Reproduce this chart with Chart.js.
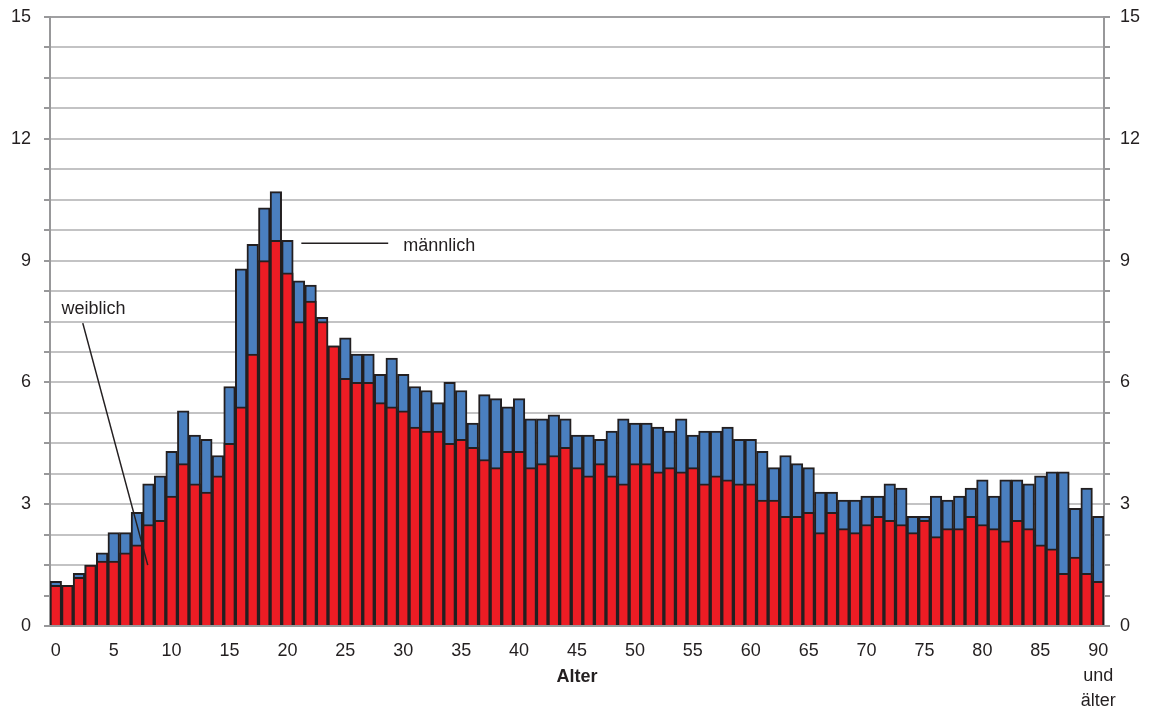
<!DOCTYPE html>
<html lang="de">
<head>
<meta charset="utf-8">
<title>Alter – männlich / weiblich</title>
<script src="https://cdn.jsdelivr.net/npm/chart.js@4.4.1/dist/chart.umd.min.js"></script>
<style>
  html, body { margin: 0; padding: 0; background: #fff; }
  #wrap { width: 1155px; height: 713px; position: relative; }
</style>
</head>
<body>
<div id="wrap"><canvas id="chart"></canvas></div>
<script>
// -------- DATEN --------
const alter = [
  "0","1","2","3","4","5","6","7","8","9",
  "10","11","12","13","14","15","16","17","18","19",
  "20","21","22","23","24","25","26","27","28","29",
  "30","31","32","33","34","35","36","37","38","39",
  "40","41","42","43","44","45","46","47","48","49",
  "50","51","52","53","54","55","56","57","58","59",
  "60","61","62","63","64","65","66","67","68","69",
  "70","71","72","73","74","75","76","77","78","79",
  "80","81","82","83","84","85","86","87","88","89",
  ["90","und","älter"]
];

const maennlich = [
  1.1, 1.0, 1.3, 1.5, 1.8, 2.3, 2.3, 2.8, 3.5, 3.7,
  4.3, 5.3, 4.7, 4.6, 4.2, 5.9, 8.8, 9.4, 10.3, 10.7,
  9.5, 8.5, 8.4, 7.6, 6.9, 7.1, 6.7, 6.7, 6.2, 6.6,
  6.2, 5.9, 5.8, 5.5, 6.0, 5.8, 5.0, 5.7, 5.6, 5.4,
  5.6, 5.1, 5.1, 5.2, 5.1, 4.7, 4.7, 4.6, 4.8, 5.1,
  5.0, 5.0, 4.9, 4.8, 5.1, 4.7, 4.8, 4.8, 4.9, 4.6,
  4.6, 4.3, 3.9, 4.2, 4.0, 3.9, 3.3, 3.3, 3.1, 3.1,
  3.2, 3.2, 3.5, 3.4, 2.7, 2.7, 3.2, 3.1, 3.2, 3.4,
  3.6, 3.2, 3.6, 3.6, 3.5, 3.7, 3.8, 3.8, 2.9, 3.4,
  2.7
];

const weiblich = [
  1.0, 1.0, 1.2, 1.5, 1.6, 1.6, 1.8, 2.0, 2.5, 2.6,
  3.2, 4.0, 3.5, 3.3, 3.7, 4.5, 5.4, 6.7, 9.0, 9.5,
  8.7, 7.5, 8.0, 7.5, 6.9, 6.1, 6.0, 6.0, 5.5, 5.4,
  5.3, 4.9, 4.8, 4.8, 4.5, 4.6, 4.4, 4.1, 3.9, 4.3,
  4.3, 3.9, 4.0, 4.2, 4.4, 3.9, 3.7, 4.0, 3.7, 3.5,
  4.0, 4.0, 3.8, 3.9, 3.8, 3.9, 3.5, 3.7, 3.6, 3.5,
  3.5, 3.1, 3.1, 2.7, 2.7, 2.8, 2.3, 2.8, 2.4, 2.3,
  2.5, 2.7, 2.6, 2.5, 2.3, 2.6, 2.2, 2.4, 2.4, 2.7,
  2.5, 2.4, 2.1, 2.6, 2.4, 2.0, 1.9, 1.3, 1.7, 1.3,
  1.1
];

const yMin = 0;
const yMax = 15;
const yStep = 0.75;      // Gitterlinien
const yLabelStep = 3;    // beschriftete Werte: 0, 3, 6, 9, 12, 15
const xLabelStep = 5;    // 0, 5, 10 ... 90

// -------- FARBEN --------
const ROT = "#ed1c24";
const BLAU = "#4a7fbf";
const RAND = "#231f20";
const TEXT = "#231f20";
const GITTER = "#c3c3c4";
const ACHSE = "#98989a";

Chart.defaults.font.family = "Arial, 'Liberation Sans', sans-serif";
Chart.defaults.color = TEXT;

// Beschriftungen + Titel "Alter"
const beschriftung = {
  id: "beschriftung",
  afterDatasetsDraw(chart) {
    const { ctx, chartArea } = chart;
    const x = chart.scales.x;
    const y = chart.scales.y;
    ctx.save();
    ctx.strokeStyle = RAND;
    ctx.lineWidth = 1.5;

    // männlich
    ctx.beginPath();
    ctx.moveTo(x.getPixelForValue(21.2), y.getPixelForValue(9.43));
    ctx.lineTo(x.getPixelForValue(28.7), y.getPixelForValue(9.43));
    ctx.stroke();

    // weiblich
    ctx.beginPath();
    ctx.moveTo(x.getPixelForValue(2.33), y.getPixelForValue(7.46));
    ctx.lineTo(x.getPixelForValue(7.94), y.getPixelForValue(1.5));
    ctx.stroke();

    ctx.fillStyle = TEXT;
    ctx.font = "18px Arial, 'Liberation Sans', sans-serif";
    ctx.textBaseline = "middle";
    ctx.textAlign = "left";
    ctx.fillText("männlich", x.getPixelForValue(30.0), y.getPixelForValue(9.36));
    ctx.fillText("weiblich", x.getPixelForValue(0.5), y.getPixelForValue(7.8));

    // Achsentitel
    ctx.font = "bold 18px Arial, 'Liberation Sans', sans-serif";
    ctx.textAlign = "center";
    ctx.fillText("Alter", (chartArea.left + chartArea.right) / 2, chartArea.bottom + 51);
    ctx.restore();
  }
};

const yTickCallback = (v) => (Math.abs(v % yLabelStep) < 1e-6 ? v : "");

// feste Breite der y-Achsen, ohne Zusatzabstand oben/unten
const yFit = (w) => (s) => {
  s.width = w;
  s.paddingTop = 0;
  s.paddingBottom = 0;
};

new Chart(document.getElementById("chart"), {
  type: "bar",
  data: {
    labels: alter,
    datasets: [
      {
        label: "weiblich",
        data: weiblich,
        backgroundColor: ROT,
        borderColor: RAND,
        borderWidth: 2,
        grouped: false,
        barPercentage: 1,
        categoryPercentage: 1
      },
      {
        label: "männlich",
        data: maennlich,
        backgroundColor: BLAU,
        borderColor: RAND,
        borderWidth: 2,
        grouped: false,
        barPercentage: 1,
        categoryPercentage: 1
      }
    ]
  },
  options: {
    responsive: true,
    maintainAspectRatio: false,
    animation: false,
    layout: { padding: { top: 17, left: 0, right: 0, bottom: 0 } },
    plugins: {
      legend: { display: false },
      tooltip: { enabled: false }
    },
    scales: {
      x: {
        grid: { display: false },
        border: { display: true, color: ACHSE, width: 2 },
        ticks: {
          autoSkip: false,
          maxRotation: 0,
          minRotation: 0,
          padding: 5,
          color: TEXT,
          font: { size: 18, lineHeight: 1.38 },
          callback: function (val, i) {
            return i % xLabelStep === 0 ? this.getLabelForValue(val) : "";
          }
        },
        afterFit: (s) => { s.height = 87; }
      },
      y: {
        position: "left",
        min: yMin,
        max: yMax,
        grid: {
          color: (c) => (c.tick && c.tick.value === yMax ? "#a0a0a2" : GITTER),
          lineWidth: 2,
          tickLength: 6,
          tickColor: ACHSE
        },
        border: { display: true, color: ACHSE, width: 2 },
        ticks: {
          stepSize: yStep,
          padding: 13,
          color: TEXT,
          font: { size: 18 },
          callback: yTickCallback
        },
        afterFit: yFit(50)
      },
      y2: {
        position: "right",
        min: yMin,
        max: yMax,
        grid: {
          drawOnChartArea: false,
          lineWidth: 2,
          tickLength: 6,
          tickColor: ACHSE
        },
        border: { display: true, color: ACHSE, width: 2 },
        ticks: {
          stepSize: yStep,
          padding: 10,
          color: TEXT,
          font: { size: 18 },
          callback: yTickCallback
        },
        afterFit: yFit(51)
      }
    }
  },
  plugins: [beschriftung]
});
</script>
</body>
</html>
